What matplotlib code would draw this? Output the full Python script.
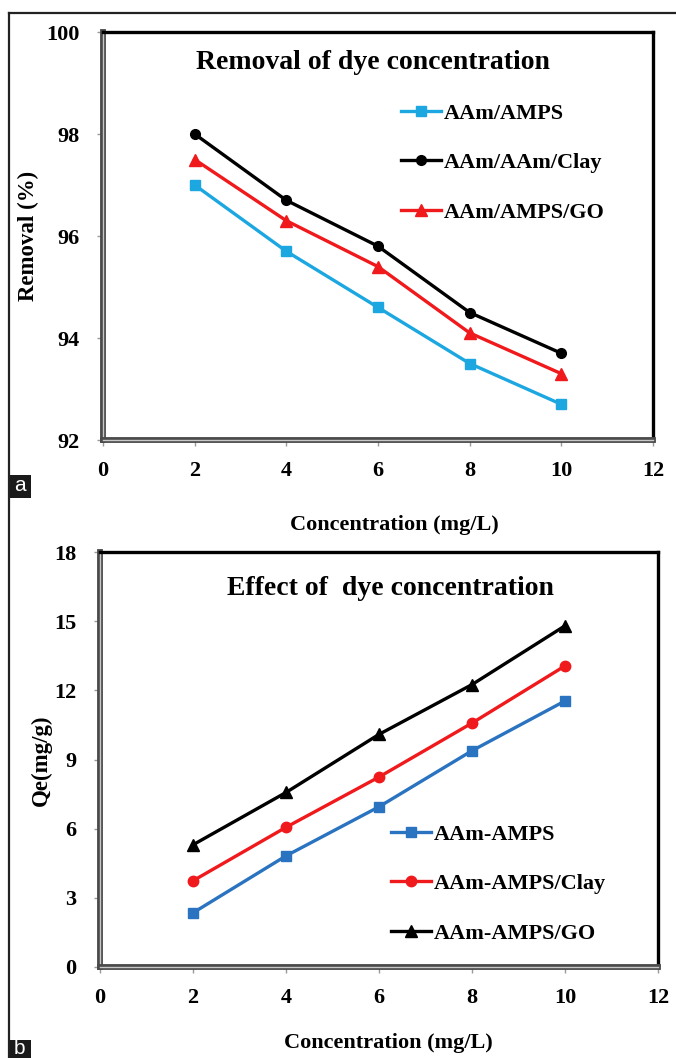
import matplotlib
matplotlib.use("Agg")
import matplotlib.pyplot as plt
import matplotlib.patheffects as pe
from matplotlib.lines import Line2D
from matplotlib.patches import Rectangle

# concentration (mg/L)
conc = [2, 4, 6, 8, 10]

# (a) removal of dye (%)
removal_aamps = [97.0, 95.7, 94.6, 93.5, 92.7]
removal_clay = [98.0, 96.7, 95.8, 94.5, 93.7]
removal_go = [97.5, 96.3, 95.4, 94.1, 93.3]

# (b) adsorption capacity Qe (mg/g)
qe_aamps = [2.35, 4.82, 6.95, 9.38, 11.54]
qe_clay = [3.74, 6.06, 8.24, 10.58, 13.06]
qe_go = [5.30, 7.57, 10.09, 12.25, 14.80]

x_ticks = [0, 2, 4, 6, 8, 10, 12]
yticks_a = [92, 94, 96, 98, 100]
yticks_b = [0, 3, 6, 9, 12, 15, 18]

plt.rcParams['font.family'] = ['Liberation Serif', 'DejaVu Serif']
plt.rcParams['font.weight'] = 'bold'

W, H = 676, 1058
fig = plt.figure(figsize=(W / 100, H / 100), dpi=100)


def style_axes(ax):
    for side in ('top', 'right'):
        ax.spines[side].set_linewidth(2.4)
        ax.spines[side].set_color('black')
    for side in ('left', 'bottom'):
        ax.spines[side].set_linewidth(1.0)
        ax.spines[side].set_color('#c8c8c8')
        ax.spines[side].set_path_effects(
            [pe.Stroke(linewidth=4.2, foreground='#4a4a4a'), pe.Normal()])
    ax.tick_params(direction='out', length=4, width=1, color='#999999',
                   labelsize=16, pad=11)
    ax.tick_params(axis='y', pad=13)
    for lab in ax.get_xticklabels() + ax.get_yticklabels():
        lab.set_fontweight('bold')


def panel_tag(letter, x0, y0, h, ty):
    fig.patches.append(Rectangle((x0 / W, 1 - (y0 + h) / H), 23 / W, h / H,
                                 transform=fig.transFigure,
                                 facecolor='#1a1a1a', edgecolor='none'))
    fig.text((x0 + 11.5) / W, 1 - ty / H, letter, color='white',
             family='Liberation Sans', fontweight='normal', fontsize=15,
             ha='center', va='center')


# outer frame
fig.add_artist(Line2D([9 / W, 9 / W], [0, 1 - 13 / H], color='#222222',
                      lw=1.6, transform=fig.transFigure))
fig.add_artist(Line2D([9 / W, 1], [1 - 13 / H, 1 - 13 / H], color='#222222',
                      lw=1.6, transform=fig.transFigure))

legend_kw = dict(loc='center left', frameon=False, borderpad=0,
                 borderaxespad=0, handlelength=1.8, handletextpad=0.1,
                 labelspacing=1.3, prop={'size': 16, 'weight': 'bold'})

# ---- panel a ----
ax1 = fig.add_axes([103 / W, 1 - 440 / H, 550 / W, 408 / H])
ax1.plot(conc, removal_aamps, color='#1ca7e1', lw=2.4, marker='s', ms=7,
         label='AAm/AMPS')
ax1.plot(conc, removal_clay, color='black', lw=2.4, marker='o', ms=7,
         label='AAm/AAm/Clay')
ax1.plot(conc, removal_go, color='#f0191c', lw=2.4, marker='^', ms=8,
         label='AAm/AMPS/GO')
ax1.set_xlim(0, 12)
ax1.set_ylim(92, 100)
ax1.set_xticks(x_ticks)
ax1.set_yticks(yticks_a)
style_axes(ax1)
ax1.text(0.491, 0.926, 'Removal of dye concentration', transform=ax1.transAxes,
         ha='center', va='center', fontsize=20, fontweight='bold')
ax1.legend(bbox_to_anchor=(0.542, 0.679), **legend_kw)
fig.text(394 / W, 1 - 525 / H, 'Concentration (mg/L)', ha='center',
         va='center', fontsize=16, fontweight='bold')
fig.text(28 / W, 1 - 236 / H, 'Removal (%)', ha='center', va='center',
         rotation=90, fontsize=16.5, fontweight='bold')
panel_tag('a', 8, 475, 23, 486)

# ---- panel b ----
ax2 = fig.add_axes([100 / W, 1 - 967 / H, 558 / W, 415 / H])
ax2.plot(conc, qe_aamps, color='#2a73c0', lw=2.4, marker='s', ms=7,
         label='AAm-AMPS')
ax2.plot(conc, qe_clay, color='#f0191c', lw=2.4, marker='o', ms=7.5,
         label='AAm-AMPS/Clay')
ax2.plot(conc, qe_go, color='black', lw=2.4, marker='^', ms=8.5,
         label='AAm-AMPS/GO')
ax2.set_xlim(0, 12)
ax2.set_ylim(0, 18)
ax2.set_xticks(x_ticks)
ax2.set_yticks(yticks_b)
style_axes(ax2)
ax2.text(0.52, 0.911, 'Effect of  dye concentration', transform=ax2.transAxes,
         ha='center', va='center', fontsize=20, fontweight='bold')
ax2.legend(bbox_to_anchor=(0.522, 0.200), **legend_kw)
fig.text(388 / W, 1 - 1043 / H, 'Concentration (mg/L)', ha='center',
         va='center', fontsize=16, fontweight='bold')
fig.text(41 / W, 1 - 760 / H, 'Qe(mg/g)', ha='center', va='center',
         rotation=90, fontsize=16.5, fontweight='bold')
panel_tag('b', 8, 1040, 18, 1048)

fig.savefig('out.png', dpi=100)
